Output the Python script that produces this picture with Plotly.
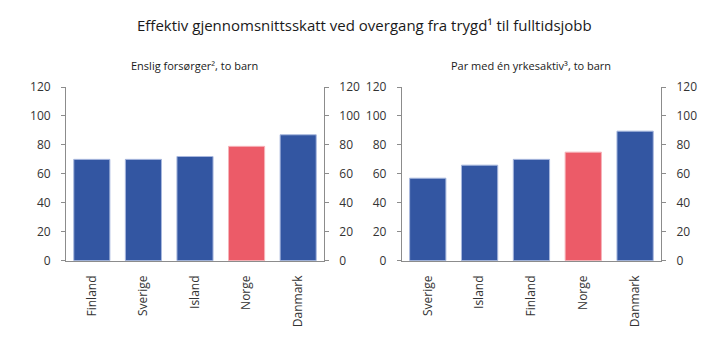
import plotly.graph_objects as go

left_cats = ["Finland", "Sverige", "Island", "Norge", "Danmark"]
left_vals = [70, 70, 72, 79, 87]
right_cats = ["Sverige", "Island", "Finland", "Norge", "Danmark"]
right_vals = [57, 66, 70, 75, 89.5]
y_ticks = [0, 20, 40, 60, 80, 100, 120]

title = "Effektiv gjennomsnittsskatt ved overgang fra trygd¹ til fulltidsjobb"
sub_left = "Enslig forsørger², to barn"
sub_right = "Par med én yrkesaktiv³, to barn"

BLUE = "#3356a2"
RED = "#ec5b68"
BLUE_LINE = "#a8b8de"
RED_LINE = "#f6b3b9"
FONT = "Open Sans"
TXT = "#333333"
AX = "#8c8c8c"

def colors(cats):
    return [RED if c == "Norge" else BLUE for c in cats]

def lines(cats):
    return [RED_LINE if c == "Norge" else BLUE_LINE for c in cats]

fig = go.Figure()
fig.add_trace(go.Bar(x=left_cats, y=left_vals, marker=dict(color=colors(left_cats), line=dict(color=lines(left_cats), width=1)),
                     width=0.7, xaxis="x", yaxis="y", hoverinfo="skip"))
fig.add_trace(go.Bar(x=left_cats, y=left_vals, marker=dict(opacity=0), width=0.7, xaxis="x", yaxis="y2",
                     hoverinfo="skip", showlegend=False))
fig.add_trace(go.Bar(x=right_cats, y=right_vals, marker=dict(color=colors(right_cats), line=dict(color=lines(right_cats), width=1)),
                     width=0.7, xaxis="x2", yaxis="y3", hoverinfo="skip"))
fig.add_trace(go.Bar(x=right_cats, y=right_vals, marker=dict(opacity=0), width=0.7, xaxis="x2", yaxis="y4",
                     hoverinfo="skip", showlegend=False))

ydom = [0.2615, 0.7535]
yax_common = dict(range=[0, 120], tickvals=y_ticks, showgrid=False, zeroline=False, showline=True, linecolor=AX,
                  linewidth=1, ticks="outside", ticklen=4, tickcolor=AX, ticklabelstandoff=8, automargin=False,
                  tickfont=dict(family=FONT, size=12, color=TXT), domain=ydom, fixedrange=True)
xax_common = dict(showgrid=False, zeroline=False, showline=True, linecolor=AX, linewidth=1, ticks="",
                  tickangle=-90, ticklabelstandoff=9, automargin=False,
                  tickfont=dict(family=FONT, size=12, color=TXT), fixedrange=True)

fig.update_layout(
    template="none",
    width=728, height=353, margin=dict(l=0, r=0, t=0, b=0, pad=0, autoexpand=False),
    paper_bgcolor="white", plot_bgcolor="white", showlegend=False, bargap=0.3,
    xaxis=dict(domain=[0.0907, 0.445], anchor="y", **xax_common),
    xaxis2=dict(domain=[0.552, 0.908], anchor="y3", **xax_common),
    yaxis=dict(anchor="x", side="left", **yax_common),
    yaxis2=dict(anchor="x", overlaying="y", side="right", **yax_common),
    yaxis3=dict(anchor="x2", side="left", **yax_common),
    yaxis4=dict(anchor="x2", overlaying="y3", side="right", **yax_common),
    annotations=[
        dict(text=title, x=0.5, y=1 - 25 / 353, xref="paper", yref="paper", showarrow=False,
             font=dict(family=FONT, size=15, color="#1a1a1a"), xanchor="center", yanchor="middle"),
        dict(text=sub_left, x=(0.0907 + 0.445) / 2, y=1 - 65 / 353, xref="paper", yref="paper", showarrow=False,
             font=dict(family=FONT, size=11, color="#1a1a1a"), xanchor="center", yanchor="middle"),
        dict(text=sub_right, x=(0.552 + 0.908) / 2, y=1 - 65 / 353, xref="paper", yref="paper", showarrow=False,
             font=dict(family=FONT, size=11, color="#1a1a1a"), xanchor="center", yanchor="middle"),
    ],
)

fig.write_html("out.html")
